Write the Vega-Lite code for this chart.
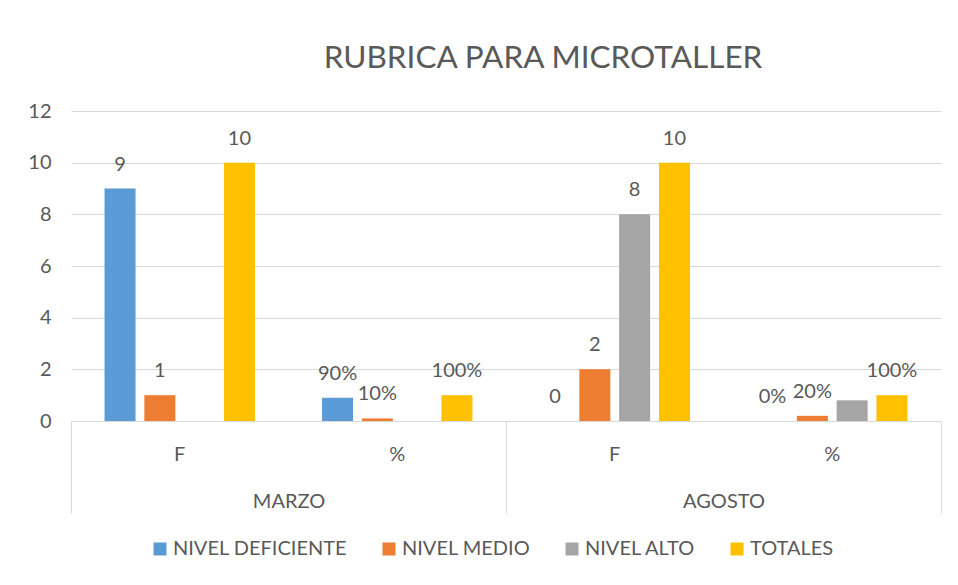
{
  "$schema": "https://vega.github.io/schema/vega-lite/v6.json",
  "width": 870,
  "height": 310,
  "autosize": "none",
  "padding": {"left": 71, "top": 111, "right": 17, "bottom": 164},
  "background": "white",
  "title": {
    "text": "RUBRICA PARA MICROTALLER",
    "font": "Lato",
    "fontSize": 31.5,
    "fontWeight": "normal",
    "color": "#595959",
    "anchor": "middle",
    "frame": "group",
    "dx": 37,
    "offset": 27
  },
  "config": {
    "view": {"stroke": null},
    "font": "Lato",
    "legend": {
      "orient": "none",
      "legendX": 79,
      "legendY": 428,
      "direction": "horizontal",
      "symbolType": "square",
      "symbolSize": 169,
      "symbolStrokeWidth": 0,
      "labelFont": "Lato",
      "labelFontSize": 20,
      "labelColor": "#595959",
      "labelLimit": 400,
      "columnPadding": 31,
      "labelOffset": 3
    }
  },
  "datasets": {
    "tabla": [
      {"mes": "MARZO", "cat": "MARZO|F", "serie": "NIVEL DEFICIENTE", "valor": 9, "etiqueta": "9"},
      {"mes": "MARZO", "cat": "MARZO|F", "serie": "NIVEL MEDIO", "valor": 1, "etiqueta": "1"},
      {"mes": "MARZO", "cat": "MARZO|F", "serie": "TOTALES", "valor": 10, "etiqueta": "10"},
      {"mes": "MARZO", "cat": "MARZO|%", "serie": "NIVEL DEFICIENTE", "valor": 0.9, "etiqueta": "90%"},
      {"mes": "MARZO", "cat": "MARZO|%", "serie": "NIVEL MEDIO", "valor": 0.1, "etiqueta": "10%"},
      {"mes": "MARZO", "cat": "MARZO|%", "serie": "TOTALES", "valor": 1, "etiqueta": "100%"},
      {"mes": "AGOSTO", "cat": "AGOSTO|F", "serie": "NIVEL DEFICIENTE", "valor": 0, "etiqueta": "0"},
      {"mes": "AGOSTO", "cat": "AGOSTO|F", "serie": "NIVEL MEDIO", "valor": 2, "etiqueta": "2"},
      {"mes": "AGOSTO", "cat": "AGOSTO|F", "serie": "NIVEL ALTO", "valor": 8, "etiqueta": "8"},
      {"mes": "AGOSTO", "cat": "AGOSTO|F", "serie": "TOTALES", "valor": 10, "etiqueta": "10"},
      {"mes": "AGOSTO", "cat": "AGOSTO|%", "serie": "NIVEL DEFICIENTE", "valor": 0, "etiqueta": "0%"},
      {"mes": "AGOSTO", "cat": "AGOSTO|%", "serie": "NIVEL MEDIO", "valor": 0.2, "etiqueta": "20%"},
      {"mes": "AGOSTO", "cat": "AGOSTO|%", "serie": "NIVEL ALTO", "valor": 0.8, "etiqueta": null},
      {"mes": "AGOSTO", "cat": "AGOSTO|%", "serie": "TOTALES", "valor": 1, "etiqueta": "100%"}
    ],
    "meses": [
      {"mes": "MARZO"},
      {"mes": "AGOSTO"}
    ]
  },
  "resolve": {"scale": {"x": "independent"}, "axis": {"x": "independent"}},
  "layer": [
    {
      "data": {"name": "tabla"},
      "encoding": {
        "x": {
          "field": "cat",
          "type": "nominal",
          "sort": null,
          "scale": {"domain": ["MARZO|F", "MARZO|%", "AGOSTO|F", "AGOSTO|%"], "paddingInner": 0, "paddingOuter": 0},
          "axis": {
            "orient": "bottom",
            "title": null,
            "labelExpr": "split(datum.label, '|')[1]",
            "labelAngle": 0,
            "ticks": false,
            "tickSize": 0,
            "labelPadding": 23,
            "domain": true,
            "domainColor": "#D9D9D9",
            "domainWidth": 1,
            "grid": false,
            "labelFont": "Lato",
            "labelFontSize": 20,
            "labelColor": "#595959"
          }
        },
        "xOffset": {
          "field": "serie",
          "type": "nominal",
          "scale": {"domain": ["NIVEL DEFICIENTE", "NIVEL MEDIO", "NIVEL ALTO", "TOTALES"], "paddingInner": 0.221, "paddingOuter": 0.843}
        },
        "y": {
          "field": "valor",
          "type": "quantitative",
          "scale": {"domain": [0, 12], "nice": false},
          "axis": {
            "title": null,
            "values": [0, 2, 4, 6, 8, 10, 12],
            "domain": false,
            "ticks": false,
            "labelPadding": 20,
            "grid": true,
            "gridColor": "#D9D9D9",
            "gridWidth": 1,
            "labelFont": "Lato",
            "labelFontSize": 20,
            "labelColor": "#595959"
          }
        }
      },
      "layer": [
        {
          "mark": {"type": "bar"},
          "encoding": {
            "color": {
              "field": "serie",
              "type": "nominal",
              "scale": {
                "domain": ["NIVEL DEFICIENTE", "NIVEL MEDIO", "NIVEL ALTO", "TOTALES"],
                "range": ["#5B9BD5", "#ED7D31", "#A5A5A5", "#FFC000"]
              },
              "legend": {"title": null}
            }
          }
        },
        {
          "transform": [{"filter": "datum.etiqueta != null"}],
          "mark": {"type": "text", "font": "Lato", "fontSize": 20, "color": "#595959", "dy": -24, "baseline": "middle"},
          "encoding": {
            "text": {"field": "etiqueta", "type": "nominal"}
          }
        }
      ]
    },
    {
      "data": {"name": "meses"},
      "mark": {"type": "text"},
      "encoding": {
        "x": {
          "field": "mes",
          "type": "nominal",
          "sort": null,
          "scale": {"domain": ["MARZO", "AGOSTO"], "paddingInner": 0, "paddingOuter": 0},
          "axis": {
            "orient": "bottom",
            "title": null,
            "tickBand": "extent",
            "ticks": true,
            "tickSize": 92,
            "tickColor": "#D9D9D9",
            "tickWidth": 1,
            "domain": false,
            "grid": false,
            "labelAngle": 0,
            "labelPadding": -22,
            "labelFont": "Lato",
            "labelFontSize": 20,
            "labelColor": "#595959"
          }
        },
        "text": {"value": ""}
      }
    }
  ]
}
